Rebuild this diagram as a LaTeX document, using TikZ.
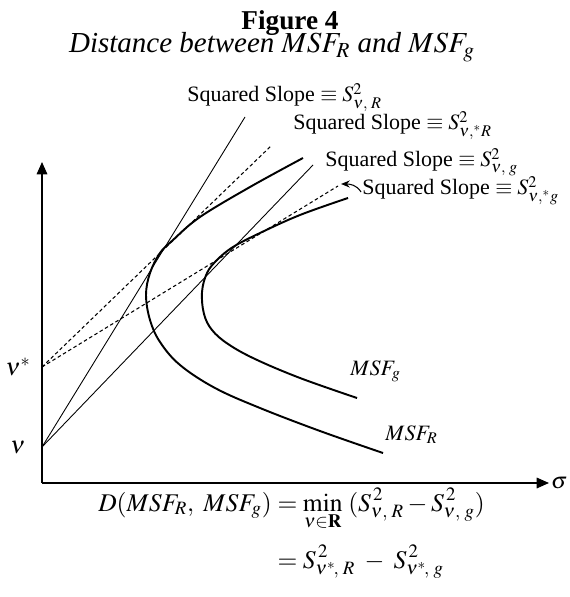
\documentclass[tikz,border=0pt]{standalone}
\usepackage{amsmath}
\usepackage{mathptmx}
\usepackage{fontspec}
\setmainfont{Liberation Serif}
\usetikzlibrary{arrows.meta,positioning}

\begin{document}
\begin{tikzpicture}[
    x=0.02cm, y=-0.02cm,
    axis/.style={line width=0.9pt, -{Triangle[length=7pt, width=6pt]}},
    frontier/.style={line width=1.1pt, line join=round},
    tangent/.style={line width=0.5pt},
    dtangent/.style={line width=0.6pt, dash pattern=on 2pt off 1.5pt},
    slope/.style={font=\fontsize{12.5}{14}\selectfont, anchor=base west, inner sep=0pt},
    msf/.style={font=\fontsize{12.5}{14}\selectfont, anchor=base west, inner sep=0pt},
    pointer/.style={-{Stealth[length=5pt, width=4pt]}, line width=0.6pt},
]
\useasboundingbox (0,0) rectangle (569,597);

% Title
\node[font=\bfseries\fontsize{15.5}{18}\selectfont, anchor=base] (title) at (290,30) {Figure 4};
\node[font=\itshape\fontsize{16.5}{19}\selectfont, anchor=base] (subtitle) at (272,53) {Distance between $MSF_R$ and $MSF_g$};

% Axes
\coordinate (O) at (42,483);
\coordinate (ytop) at (42,162);
\coordinate (xend) at (549,483);
\draw[axis] (O) -- (ytop);
\draw[axis] (O) -- (xend);
\node[font=\fontsize{13}{15}\selectfont, anchor=west, inner sep=1pt] (sigma) at (xend) {$\sigma$};

% Intercepts
\coordinate (nu) at (42,447);
\coordinate (nustar) at (42,367);
\node[font=\fontsize{14}{16}\selectfont, left=6pt of nu] (nulbl) {$\nu$};
\node[font=\fontsize{14}{16}\selectfont, left=3pt of nustar] (nustarlbl) {$\nu^*$};

% Tangent lines
\coordinate (tR) at (245,117);
\coordinate (tg) at (313,165);
\coordinate (tRs) at (272,145);
\coordinate (tgs) at (338,186);
\draw[tangent] (nu) -- (tR);
\draw[tangent] (nu) -- (tg);
\draw[dtangent] (nustar) -- (tRs);
\draw[dtangent] (nustar) -- (tgs);

% Frontiers
\draw[frontier] plot[smooth, tension=0.6] coordinates {(303,158) (250,187) (200,217) (173,240) (160,253) (150,273) (146,295) (150,320) (160,342) (180,365) (215,388) (260,408) (320,431) (383,453)};
\draw[frontier] plot[smooth, tension=0.6] coordinates {(348,198) (300,215) (260,233) (233,247) (217,260) (207,273) (202,292) (204,314) (212,330) (228,344) (255,359) (300,378) (357,398)};
\node[msf] (msfg) at (350,375) {$MSF_g$};
\node[msf] (msfR) at (385,440) {$MSF_R$};

% Slope labels
\node[slope] (lblR) at (187,102) {Squared Slope $\equiv S^2_{\nu,\;R}$};
\node[slope] (lblRs) at (293,130) {Squared Slope $\equiv S^2_{\nu,{}^*R}$};
\node[slope] (lblg) at (325,167) {Squared Slope $\equiv S^2_{\nu,\;g}$};
\node[slope] (lblgs) at (362,195) {Squared Slope $\equiv S^2_{\nu,{}^*g}$};
\coordinate (tip) at (341,184);
\draw[pointer] ([shift={(-1,-3)}]lblgs.base west) to[out=120, in=0] (tip);

% Distance
\node[font=\fontsize{14.5}{17}\selectfont, anchor=base west, inner sep=0pt] (dist) at (98,511)
  {$\begin{aligned}[t] D(MSF_R,\ MSF_g) &= \min_{\nu\in\mathbf{R}}\;(S^{\,2}_{\nu,\;R} - S^{\,2}_{\nu,\;g})\\[4pt]
   &= S^{\,2}_{\nu^*\!,\;R} \;-\; S^{\,2}_{\nu^*\!,\;g}\end{aligned}$};

\end{tikzpicture}
\end{document}
